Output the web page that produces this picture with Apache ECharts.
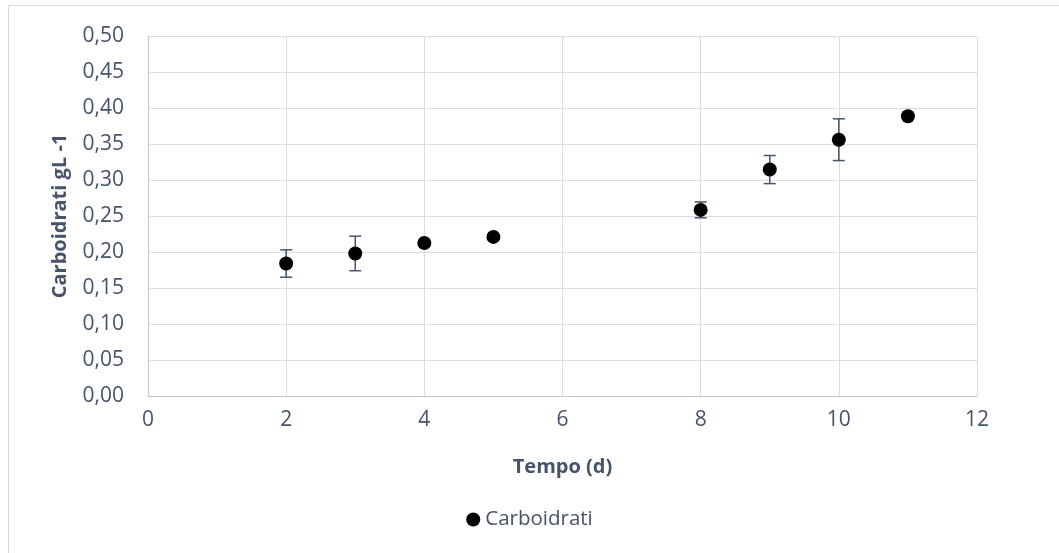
<!DOCTYPE html>
<html><head><meta charset="utf-8">
<script src="https://cdn.jsdelivr.net/npm/echarts@6/dist/echarts.min.js"></script>
<style>html,body{margin:0;padding:0;background:#fff}#c{width:1059px;height:553px}</style>
</head><body><div id="c"></div>
<script>
const days = [2, 3, 4, 5, 8, 9, 10, 11];
const carboidrati = [0.184, 0.198, 0.2125, 0.221, 0.2585, 0.3145, 0.356, 0.3885];
const errors = [0.019, 0.024, 0.002, 0.002, 0.011, 0.0195, 0.029, 0.0];
const seriesName = 'Carboidrati';
const xTitle = 'Tempo (d)';
const yTitle = 'Carboidrati gL -1';

const txt = '#44546a';
const font = 'Open Sans';
const chart = echarts.init(document.getElementById('c'));
const errData = days.map((d, i) => [d, carboidrati[i] - errors[i], carboidrati[i] + errors[i]]);
chart.setOption({
  animation: false,
  graphic: [{type: 'rect', shape: {x: 8.5, y: 5.5, width: 1060, height: 560}, style: {fill: 'none', stroke: '#d9d9d9', lineWidth: 1}, silent: true}],
  grid: {left: 148, right: 82, top: 36, bottom: 157},
  legend: {bottom: 18, left: 'center', itemWidth: 14, itemHeight: 14, itemGap: 2,
    textStyle: {color: txt, fontFamily: font, fontSize: 20.5},
    itemStyle: {opacity: 1},
    data: [{name: seriesName, icon: 'circle'}]},
  xAxis: {type: 'value', min: 0, max: 12, interval: 2,
    name: xTitle, nameLocation: 'middle', nameGap: 61,
    nameTextStyle: {color: txt, fontFamily: font, fontSize: 20, fontWeight: 'bold'},
    axisLine: {onZero: false, lineStyle: {color: '#bfc5cd', width: 1}},
    axisTick: {show: false},
    axisLabel: {color: txt, fontFamily: font, fontSize: 21, margin: 14},
    splitLine: {show: true, lineStyle: {color: '#d9dde3', width: 1}}},
  yAxis: {type: 'value', min: 0, max: 0.5, interval: 0.05,
    name: yTitle, nameLocation: 'middle', nameGap: 78,
    nameTextStyle: {color: txt, fontFamily: font, fontSize: 20, fontWeight: 'bold'},
    axisLine: {show: true, lineStyle: {color: '#bfc5cd', width: 1}},
    axisTick: {show: false},
    axisLabel: {color: txt, fontFamily: font, fontSize: 21, margin: 24,
      formatter: v => v.toFixed(2).replace('.', ',')},
    splitLine: {show: true, lineStyle: {color: '#d9dde3', width: 1}}},
  series: [
    {type: 'custom', name: 'err', silent: true, z: 3,
      renderItem: function (params, api) {
        const x = api.value(0);
        const lo = api.coord([x, api.value(1)]);
        const hi = api.coord([x, api.value(2)]);
        const w = 6;
        const st = {stroke: txt, lineWidth: 1.5, fill: 'none'};
        return {type: 'group', children: [
          {type: 'line', shape: {x1: lo[0], y1: lo[1], x2: hi[0], y2: hi[1]}, style: st},
          {type: 'line', shape: {x1: lo[0] - w, y1: lo[1], x2: lo[0] + w, y2: lo[1]}, style: st},
          {type: 'line', shape: {x1: hi[0] - w, y1: hi[1], x2: hi[0] + w, y2: hi[1]}, style: st}
        ]};
      },
      encode: {x: 0, y: [1, 2]},
      data: errData},
    {type: 'scatter', name: seriesName, symbol: 'circle', symbolSize: 14, z: 5,
      itemStyle: {color: '#000000', opacity: 1},
      data: days.map((d, i) => [d, carboidrati[i]])}
  ]
});
</script></body></html>
